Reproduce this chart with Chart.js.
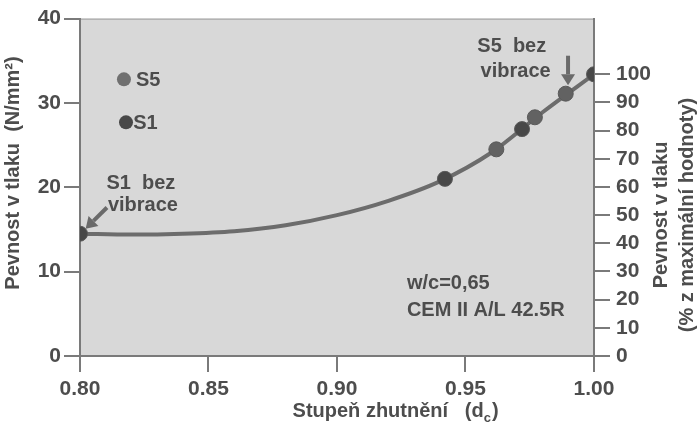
<!DOCTYPE html>
<html>
<head>
<meta charset="utf-8">
<script src="https://cdn.jsdelivr.net/npm/chart.js@4.4.1/dist/chart.umd.min.js"></script>
<style>
  html, body { margin: 0; padding: 0; background: #fff; }
  #wrap { width: 699px; height: 431px; }
</style>
</head>
<body>
<div id="wrap"><canvas id="chart"></canvas></div>
<script>
// Fitted curve (degree of compaction -> strength N/mm2)
const curveX = [0.80, 0.82, 0.84, 0.86, 0.88, 0.90, 0.92, 0.94, 0.96, 0.98, 1.00];
const curveY = [14.5, 14.4, 14.5, 14.8, 15.5, 16.7, 18.4, 20.7, 24.1, 28.9, 33.4];

// Measured points
const pointX = [0.800, 0.942, 0.962, 0.972, 0.977, 0.989, 1.000];
const pointY = [14.5, 21.0, 24.5, 26.9, 28.3, 31.1, 33.4];
const pointMix = ['S1', 'S1', 'S5', 'S1', 'S5', 'S5', 'S1'];

const xTicks = [0.80, 0.85, 0.90, 0.95, 1.00];
const yTicks = [0, 10, 20, 30, 40];
const pctTicks = [0, 10, 20, 30, 40, 50, 60, 70, 80, 90, 100];
const maxStrength = 33.4; // = 100 %

const FONT = "'Liberation Sans Narrow', 'Arial Narrow', 'Liberation Sans', Arial, sans-serif";
const TXT = '#4d4d4d';
const mixColor = { S1: '#484848', S5: '#626262' };

// plot background + annotations
const decor = {
  id: 'decor',
  beforeDraw(chart) {
    const { ctx, chartArea: a } = chart;
    ctx.save();
    ctx.fillStyle = '#d8d8d8';
    ctx.fillRect(a.left, a.top, a.right - a.left, a.bottom - a.top);
    ctx.strokeStyle = '#9a9a9a';
    ctx.lineWidth = 1;
    ctx.beginPath();
    ctx.moveTo(a.left, a.top + 0.5);
    ctx.lineTo(a.right, a.top + 0.5);
    ctx.stroke();
    ctx.restore();
  },
  afterDraw(chart) {
    const { ctx } = chart;
    const x = chart.scales.x, y = chart.scales.y;
    const px = v => x.getPixelForValue(v);
    const py = v => y.getPixelForValue(v);
    ctx.save();
    ctx.fillStyle = TXT;
    ctx.font = 'bold 20px ' + FONT;

    // legend
    [['S5', 0.8171, 32.8, 0.8218, '#707070'], ['S1', 0.8179, 27.7, 0.8207, '#484848']].forEach(([lbl, dx, dy, tx, col]) => {
      ctx.fillStyle = col;
      ctx.beginPath();
      ctx.arc(px(dx), py(dy), 7, 0, Math.PI * 2);
      ctx.fill();
      ctx.fillStyle = TXT;
      ctx.textAlign = 'left';
      ctx.textBaseline = 'middle';
      ctx.fillText(lbl, px(tx), py(dy) + 1);
    });

    // labels in the plot
    ctx.textAlign = 'center';
    ctx.fillText('S1  bez', px(0.8237), py(20.5));
    ctx.fillText('vibrace', px(0.8245), py(17.8));
    ctx.fillText('S5  bez', px(0.968), py(36.7));
    ctx.fillText('vibrace', px(0.9695), py(33.75));
    ctx.textAlign = 'left';
    ctx.fillText('w/c=0,65', px(0.9272), py(8.6));
    ctx.fillText('CEM II A/L 42.5R', px(0.9272), py(5.4));

    // arrows
    const arrow = (x1, y1, x2, y2) => {
      const ang = Math.atan2(y2 - y1, x2 - x1);
      const hl = 11, hw = 7;
      const bx = x2 - hl * Math.cos(ang), by = y2 - hl * Math.sin(ang);
      ctx.strokeStyle = '#6a6a6a';
      ctx.fillStyle = '#6a6a6a';
      ctx.lineWidth = 4;
      ctx.beginPath();
      ctx.moveTo(x1, y1);
      ctx.lineTo(bx, by);
      ctx.stroke();
      ctx.beginPath();
      ctx.moveTo(x2, y2);
      ctx.lineTo(bx + hw * Math.sin(ang), by - hw * Math.cos(ang));
      ctx.lineTo(bx - hw * Math.sin(ang), by + hw * Math.cos(ang));
      ctx.closePath();
      ctx.fill();
    };
    arrow(px(0.8105), py(17.6), px(0.8022), py(15.1));
    arrow(px(0.9899), py(35.6), px(0.9899), py(32.1));

    // axis titles
    ctx.fillStyle = TXT;
    ctx.font = 'bold 20px ' + FONT;
    ctx.textBaseline = 'middle';
    const xt = 'Stupeň zhutnění   (d';
    const w1 = ctx.measureText(xt).width;
    const cx = 397, cy = 411;
    const wc = ctx.measureText('c)').width;
    const startX = cx - (w1 + wc) / 2;
    ctx.textAlign = 'left';
    ctx.fillText(xt, startX, cy);
    ctx.font = 'bold 13px ' + FONT;
    ctx.fillText('c', startX + w1, cy + 7);
    const wsub = ctx.measureText('c').width;
    ctx.font = 'bold 20px ' + FONT;
    ctx.fillText(')', startX + w1 + wsub + 1, cy);

    ctx.textAlign = 'center';
    const vtext = (t, tx, ty) => {
      ctx.save();
      ctx.translate(tx, ty);
      ctx.rotate(-Math.PI / 2);
      ctx.fillText(t, 0, 0);
      ctx.restore();
    };
    vtext('Pevnost v tlaku  (N/mm²)', 13, 173);
    vtext('Pevnost v tlaku', 661, 215);
    vtext('(% z maximální hodnoty)', 687, 215);
    ctx.restore();
  }
};

const tickFont = { family: FONT, size: 21, weight: 'bold' };

new Chart(document.getElementById('chart'), {
  type: 'scatter',
  data: {
    datasets: [
      {
        type: 'line',
        data: curveX.map((v, i) => ({ x: v, y: curveY[i] })),
        borderColor: '#6c6c6c',
        borderWidth: 4,
        pointRadius: 0,
        tension: 0.4,
        cubicInterpolationMode: 'monotone',
        order: 2
      },
      {
        data: pointX.map((v, i) => ({ x: v, y: pointY[i] })),
        backgroundColor: pointMix.map(m => mixColor[m]),
        borderColor: '#5a5a5a',
        borderWidth: 1,
        pointRadius: 7.5,
        order: 1
      }
    ]
  },
  options: {
    responsive: true,
    maintainAspectRatio: false,
    animation: false,
    layout: { padding: { top: 17, left: 0, right: 0, bottom: 0 } },
    plugins: { legend: { display: false }, tooltip: { enabled: false } },
    scales: {
      x: {
        type: 'linear',
        min: 0.80,
        max: 1.00,
        afterBuildTicks: s => { s.ticks = xTicks.map(v => ({ value: v })); },
        afterFit: s => { s.height = 75; },
        ticks: { font: tickFont, color: TXT, padding: 5, maxRotation: 0, callback: v => v.toFixed(2) },
        grid: { drawOnChartArea: false, tickLength: 16, color: '#7a7a7a', lineWidth: 2 },
        border: { color: '#7a7a7a', width: 2 }
      },
      y: {
        position: 'left',
        min: 0,
        max: 40,
        afterBuildTicks: s => { s.ticks = yTicks.map(v => ({ value: v })); },
        afterFit: s => { s.width = 80; },
        ticks: { font: tickFont, color: TXT, padding: 3 },
        grid: { drawOnChartArea: false, tickLength: 16, color: '#7a7a7a', lineWidth: 2 },
        border: { color: '#7a7a7a', width: 2 }
      },
      y2: {
        position: 'right',
        min: 0,
        max: 40 / maxStrength * 100,
        afterBuildTicks: s => { s.ticks = pctTicks.map(v => ({ value: v })); },
        afterFit: s => { s.width = 105; },
        ticks: { font: tickFont, color: TXT, padding: 6 },
        grid: { drawOnChartArea: false, tickLength: 16, color: '#7a7a7a', lineWidth: 2 },
        border: { color: '#7a7a7a', width: 2 }
      }
    }
  },
  plugins: [decor]
});
</script>
</body>
</html>
